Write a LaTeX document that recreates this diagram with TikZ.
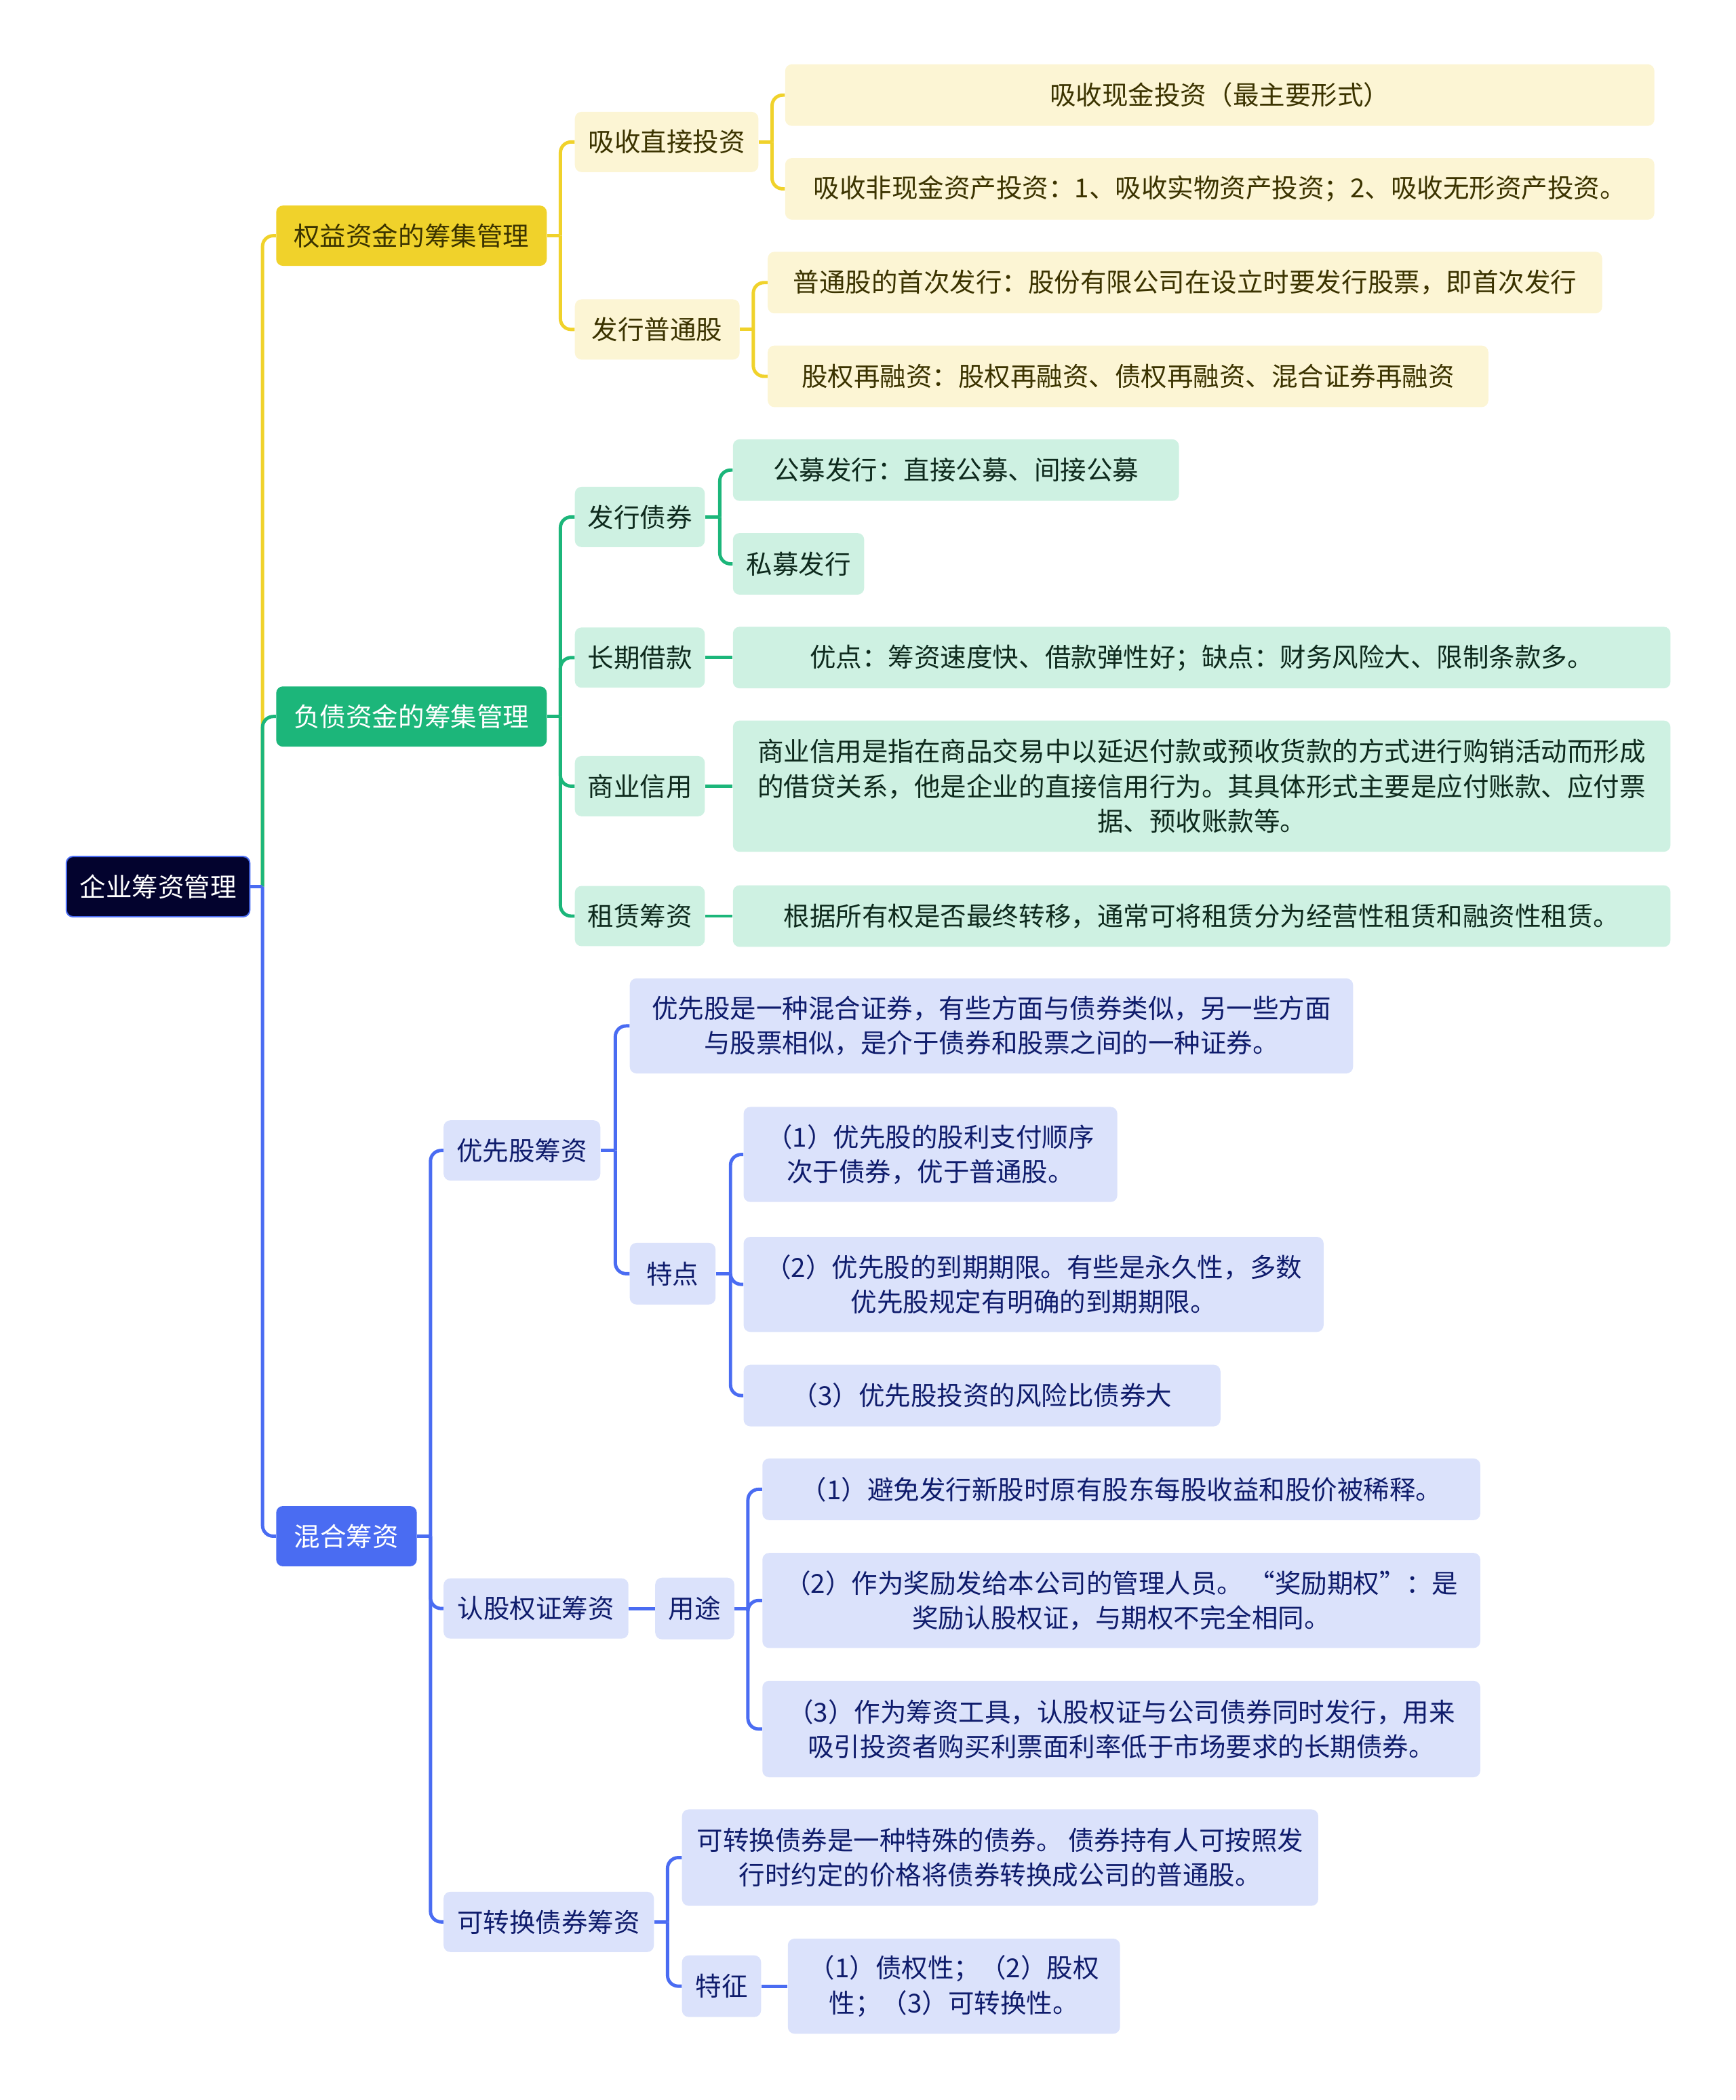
\documentclass[tikz,border=0pt]{standalone}
\usepackage{fontspec}
\setmainfont{Noto Sans CJK SC}
\usetikzlibrary{positioning}
\definecolor{rootNavy}{HTML}{03032E}
\definecolor{eqMain}{HTML}{F0D22B}
\definecolor{eqLight}{HTML}{FCF5D4}
\definecolor{eqText}{HTML}{3B3300}
\definecolor{dbMain}{HTML}{1CB67A}
\definecolor{dbLight}{HTML}{CEF1E2}
\definecolor{dbText}{HTML}{0E2A1D}
\definecolor{mxMain}{HTML}{4A6CF2}
\definecolor{mxLight}{HTML}{DBE2FB}
\definecolor{mxText}{HTML}{0F1C6C}

\begin{document}
\begin{tikzpicture}[x=1pt, y=-1pt,
    box/.style={rectangle, rounded corners=5pt, inner sep=0pt, anchor=west, minimum height=45pt, align=center, font=\fontsize{19.5}{26}\selectfont},
    rootbox/.style={box, fill=rootNavy, draw=mxMain, line width=1pt, text=white},
    eqtop/.style={box, fill=eqMain, text=eqText},
    eqsub/.style={box, fill=eqLight, text=eqText},
    dbtop/.style={box, fill=dbMain, text=white},
    dbsub/.style={box, fill=dbLight, text=dbText},
    mxtop/.style={box, fill=mxMain, text=white},
    mxsub/.style={box, fill=mxLight, text=mxText},
    eqline/.style={draw=eqMain, line width=2.5pt, rounded corners=8pt},
    dbline/.style={draw=dbMain, line width=2.5pt, rounded corners=8pt},
    mxline/.style={draw=mxMain, line width=2.5pt, rounded corners=8pt}]

    \useasboundingbox (0,0) rectangle (1296,1568);

    % root and first level
    \node [rootbox, minimum width=137pt] (root) at (49,662) {企业筹资管理};
    \node [eqtop, minimum width=202pt] (eq) at (206,176) {权益资金的筹集管理};
    \node [dbtop, minimum width=202pt] (db) at (206,535) {负债资金的筹集管理};
    \node [mxtop, minimum width=105pt] (mx) at (206,1147) {混合筹资};

    % equity branch
    \node [eqsub, minimum width=137pt] (absorb) at (429,106) {吸收直接投资};
    \node [eqsub, minimum width=123pt] (issue) at (429,246) {发行普通股};
    \node [eqsub, minimum width=649pt, minimum height=46pt] (cash) at (586,71) {吸收现金投资（最主要形式）};
    \node [eqsub, minimum width=649pt, minimum height=46pt] (noncash) at (586,141) {吸收非现金资产投资：1、吸收实物资产投资；2、吸收无形资产投资。};
    \node [eqsub, minimum width=623pt, minimum height=46pt] (first) at (573,211) {普通股的首次发行：股份有限公司在设立时要发行股票，即首次发行};
    \node [eqsub, minimum width=538pt, minimum height=46pt] (refin) at (573,281) {股权再融资：股权再融资、债权再融资、混合证券再融资};

    % debt branch
    \node [dbsub, minimum width=97pt] (bond) at (429,386) {发行债券};
    \node [dbsub, minimum width=97pt] (loan) at (429,491) {长期借款};
    \node [dbsub, minimum width=97pt] (credit) at (429,587) {商业信用};
    \node [dbsub, minimum width=97pt] (lease) at (429,684) {租赁筹资};
    \node [dbsub, minimum width=333pt, minimum height=46pt] (public) at (547,351) {公募发行：直接公募、间接公募};
    \node [dbsub, minimum width=98pt, minimum height=46pt] (private) at (547,421) {私募发行};
    \node [dbsub, minimum width=700pt, minimum height=46pt] (loannote) at (547,491) {优点：筹资速度快、借款弹性好；缺点：财务风险大、限制条款多。};
    \node [dbsub, minimum width=700pt, minimum height=98pt] (creditnote) at (547,587) {商业信用是指在商品交易中以延迟付款或预收货款的方式进行购销活动而形成\\的借贷关系，他是企业的直接信用行为。其具体形式主要是应付账款、应付票\\据、预收账款等。};
    \node [dbsub, minimum width=700pt, minimum height=46pt] (leasenote) at (547,684) {根据所有权是否最终转移，通常可将租赁分为经营性租赁和融资性租赁。};

    % mixed branch
    \node [mxsub, minimum width=117pt] (pref) at (331,859) {优先股筹资};
    \node [mxsub, minimum width=138pt] (warrant) at (331,1201) {认股权证筹资};
    \node [mxsub, minimum width=157pt] (conv) at (331,1435) {可转换债券筹资};
    \node [mxsub, minimum width=540pt, minimum height=71pt] (prefdef) at (470,766) {优先股是一种混合证券，有些方面与债券类似，另一些方面\\与股票相似，是介于债券和股票之间的一种证券。};
    \node [mxsub, minimum width=64pt, minimum height=46pt] (traits) at (470,951) {特点};
    \node [mxsub, minimum width=279pt, minimum height=71pt] (t1) at (555,862) {（1）优先股的股利支付顺序\\次于债券，优于普通股。};
    \node [mxsub, minimum width=433pt, minimum height=71pt] (t2) at (555,959) {（2）优先股的到期期限。有些是永久性，多数\\优先股规定有明确的到期期限。};
    \node [mxsub, minimum width=356pt, minimum height=46pt] (t3) at (555,1042) {（3）优先股投资的风险比债券大};
    \node [mxsub, minimum width=59pt, minimum height=46pt] (use) at (489,1201) {用途};
    \node [mxsub, minimum width=536pt, minimum height=46pt] (u1) at (569,1112) {（1）避免发行新股时原有股东每股收益和股价被稀释。};
    \node [mxsub, minimum width=536pt, minimum height=71pt] (u2) at (569,1195) {（2）作为奖励发给本公司的管理人员。 “奖励期权”：是\\奖励认股权证，与期权不完全相同。};
    \node [mxsub, minimum width=536pt, minimum height=72pt] (u3) at (569,1291) {（3）作为筹资工具，认股权证与公司债券同时发行，用来\\吸引投资者购买利票面利率低于市场要求的长期债券。};
    \node [mxsub, minimum width=475pt, minimum height=72pt] (convdef) at (509,1387) {可转换债券是一种特殊的债券。 债券持有人可按照发\\行时约定的价格将债券转换成公司的普通股。};
    \node [mxsub, minimum width=59pt, minimum height=46pt] (feat) at (509,1483) {特征};
    \node [mxsub, minimum width=248pt, minimum height=71pt] (featnote) at (588,1483) {（1）债权性；（2）股权\\性；（3）可转换性。};

    % junction points
    \path (root.east) ++(9,0) coordinate (j0);
    \path (eq.east) ++(10,0) coordinate (jeq);
    \path (absorb.east) ++(10,0) coordinate (jab);
    \path (issue.east) ++(10,0) coordinate (jis);
    \path (db.east) ++(10,0) coordinate (jdb);
    \path (bond.east) ++(11,0) coordinate (jbd);
    \path (mx.east) ++(10,0) coordinate (jmx);
    \path (pref.east) ++(11,0) coordinate (jpf);
    \path (traits.east) ++(11,0) coordinate (jtr);
    \path (use.east) ++(10,0) coordinate (jus);
    \path (conv.east) ++(10,0) coordinate (jcv);

    % trunk
    \draw [eqline] (j0) |- (eq.west);
    \draw [dbline] (j0) |- (db.west);
    \draw [mxline] (root.east) -- (j0);
    \draw [mxline] (j0) |- (mx.west);

    % equity connectors
    \draw [eqline] (eq.east) -- (jeq);
    \foreach \c in {absorb, issue} \draw [eqline] (jeq) |- (\c.west);
    \draw [eqline] (absorb.east) -- (jab);
    \foreach \c in {cash, noncash} \draw [eqline] (jab) |- (\c.west);
    \draw [eqline] (issue.east) -- (jis);
    \foreach \c in {first, refin} \draw [eqline] (jis) |- (\c.west);

    % debt connectors
    \draw [dbline] (db.east) -- (jdb);
    \foreach \c in {bond, loan, credit, lease} \draw [dbline] (jdb) |- (\c.west);
    \draw [dbline] (bond.east) -- (jbd);
    \foreach \c in {public, private} \draw [dbline] (jbd) |- (\c.west);
    \draw [dbline] (loan) -- (loannote);
    \draw [dbline] (credit) -- (creditnote);
    \draw [dbline] (lease) -- (leasenote);

    % mixed connectors
    \draw [mxline] (mx.east) -- (jmx);
    \foreach \c in {pref, warrant, conv} \draw [mxline] (jmx) |- (\c.west);
    \draw [mxline] (pref.east) -- (jpf);
    \foreach \c in {prefdef, traits} \draw [mxline] (jpf) |- (\c.west);
    \draw [mxline] (traits.east) -- (jtr);
    \foreach \c in {t1, t2, t3} \draw [mxline] (jtr) |- (\c.west);
    \draw [mxline] (warrant) -- (use);
    \draw [mxline] (use.east) -- (jus);
    \foreach \c in {u1, u2, u3} \draw [mxline] (jus) |- (\c.west);
    \draw [mxline] (conv.east) -- (jcv);
    \foreach \c in {convdef, feat} \draw [mxline] (jcv) |- (\c.west);
    \draw [mxline] (feat) -- (featnote);
\end{tikzpicture}
\end{document}
